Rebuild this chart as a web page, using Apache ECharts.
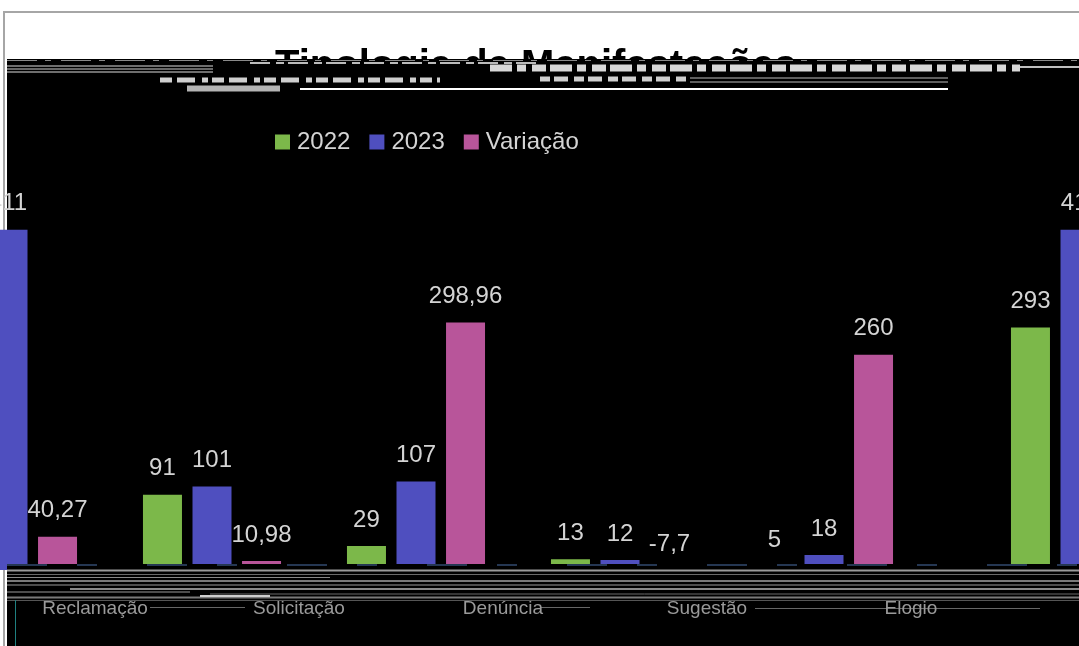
<!DOCTYPE html>
<html>
<head>
<meta charset="utf-8">
<script src="https://cdn.jsdelivr.net/npm/echarts@6/dist/echarts.min.js"></script>
<style>
html,body{margin:0;padding:0;background:#fff;}
#c{width:1079px;height:646px;}
</style>
</head>
<body>
<div id="c"></div>
<script>
const categories = ['Reclamação', 'Solicitação', 'Denúncia', 'Sugestão', 'Elogio'];
const values2022 = [293, 91, 29, 13, 5];
const values2023 = [411, 101, 107, 12, 18];
const variacao = [40.27, 10.98, 298.96, -7.7, 260];
const seriesNames = ['2022', '2023', 'Variação'];
const titleText = 'Tipologia de Manifestações';

const colors = ['#7cb84a', '#4f4fbf', '#b8559a'];
const seriesData = [values2022, values2023, variacao];
const fmt = v => String(v).replace('.', ',');

function makeSeries(gridIdx) {
  return seriesData.map((d, i) => ({
    name: seriesNames[i],
    type: 'bar',
    xAxisIndex: gridIdx,
    yAxisIndex: gridIdx,
    data: d,
    barWidth: 39,
    barGap: '27%',
    itemStyle: { color: colors[i] },
    label: {
      show: true,
      position: 'top',
      distance: 14,
      color: '#d4d4d4',
      fontSize: 24,
      fontFamily: 'Liberation Sans, Arial, sans-serif',
      formatter: p => fmt(p.value)
    }
  }));
}

function hline(x1, x2, y, color, w, dash) {
  return {
    type: 'line', z: 4,
    shape: { x1: x1, y1: y, x2: x2, y2: y },
    style: { stroke: color, lineWidth: w || 1, lineDash: dash || null }
  };
}
function hlineTop(x1, x2, y, color, w, dash) {
  const l = hline(x1, x2, y, color, w, dash); l.z = 2; return l;
}

const chart = echarts.init(document.getElementById('c'), null, { renderer: 'canvas' });
chart.setOption({
  backgroundColor: 'transparent',
  animation: false,
  title: {
    text: titleText,
    left: 275, top: 47, z: 0, padding: 0,
    textStyle: { fontSize: 40, fontWeight: 'bold', color: '#000', fontFamily: 'Liberation Sans, Arial, sans-serif' }
  },
  legend: {
    data: seriesNames,
    left: 275, top: 130, padding: 0,
    itemWidth: 15, itemHeight: 15, itemGap: 19,
    icon: 'rect',
    textStyle: { color: '#d4d4d4', fontSize: 24, padding: [0, 0, 0, 2], fontFamily: 'Liberation Sans, Arial, sans-serif' }
  },
  grid: [
    { left: -94, top: 205.7, width: 1020, height: 414, outerBoundsMode: 'none', containLabel: false },
    { left: 978, top: 205.7, width: 1020, height: 414, outerBoundsMode: 'none', containLabel: false }
  ],
  xAxis: [
    { type: 'category', gridIndex: 0, data: categories, z: 20, offset: -50,
      axisLine: { show: false, onZero: false }, axisTick: { show: false },
      axisLabel: { interval: 0, margin: 30, padding: [0, 0, 0, 174], color: '#9a9a9a', fontSize: 19,
        hideOverlap: false, fontFamily: 'Liberation Sans, Arial, sans-serif' } },
    { type: 'category', gridIndex: 1, data: categories,
      axisLine: { show: false }, axisTick: { show: false }, axisLabel: { show: false } }
  ],
  yAxis: [
    { type: 'value', gridIndex: 0, min: -60, max: 440, show: false, splitLine: { show: false } },
    { type: 'value', gridIndex: 1, min: -60, max: 440, show: false, splitLine: { show: false } }
  ],
  series: makeSeries(0).concat(makeSeries(1)),
  graphic: [
    { type: 'rect', z: -10, shape: { x: 4, y: 12, width: 1200, height: 800 },
      style: { fill: '#fff', stroke: '#a6a6a6', lineWidth: 2 } },
    { type: 'rect', z: 1, shape: { x: 7, y: 59, width: 1080, height: 600 }, style: { fill: '#000' } },
    // top garble band
    hlineTop(7, 1079, 60.5, '#8a8a8a', 1, [30, 8, 6, 10]),
    hlineTop(7, 213, 66, '#dddddd', 1),
    hlineTop(7, 213, 69, '#cfcfcf', 1),
    hlineTop(7, 213, 72, '#dddddd', 1),
    hlineTop(250, 540, 63, '#bbbbbb', 2, [20, 6, 8, 4]),
    hlineTop(490, 1020, 68, '#d8d8d8', 7, [22, 5, 9, 6, 14, 4]),
    hlineTop(1020, 1079, 67, '#bfbfbf', 2),
    hlineTop(160, 440, 80, '#cfcfcf', 5, [12, 5, 18, 7, 6, 4]),
    hlineTop(540, 690, 79, '#cfcfcf', 5, [10, 4, 14, 6]),
    hlineTop(690, 948, 78, '#bdbdbd', 1),
    hlineTop(690, 948, 82, '#bdbdbd', 1),
    hlineTop(187, 280, 88.5, '#b4b4b4', 6),
    hlineTop(300, 948, 89, '#ffffff', 2),
    // bottom overlay
    { type: 'rect', z: 3, shape: { x: 7, y: 564, width: 1080, height: 90 }, style: { fill: '#000' } },
    hline(7, 1079, 565, '#4a6fa5', 1, [40, 30, 20, 50]),
    hline(7, 1079, 570.5, '#9a9a9a', 2),
    hline(7, 1079, 574.5, '#6a6a6a', 1),
    hline(7, 330, 577.5, '#8a8a8a', 1),
    hline(7, 1079, 581, '#7a7a7a', 2),
    hline(7, 1079, 585, '#9a9a9a', 1),
    hline(70, 1079, 589, '#8a8a8a', 2),
    hline(7, 190, 592, '#9a9a9a', 1),
    hline(210, 1079, 594, '#6a6a6a', 1),
    hline(7, 1079, 597.5, '#7a7a7a', 2),
    hline(7, 1079, 600.5, '#555555', 1),
    hline(200, 270, 596, '#cccccc', 2),
    hline(150, 245, 607.5, '#666666', 1),
    hline(540, 590, 607.5, '#666666', 1),
    hline(755, 1040, 608.5, '#666666', 1),
    { type: 'line', z: 4, shape: { x1: 15.5, y1: 600, x2: 15.5, y2: 646 }, style: { stroke: '#1f8080', lineWidth: 1 } }
  ]
});
</script>
</body>
</html>
